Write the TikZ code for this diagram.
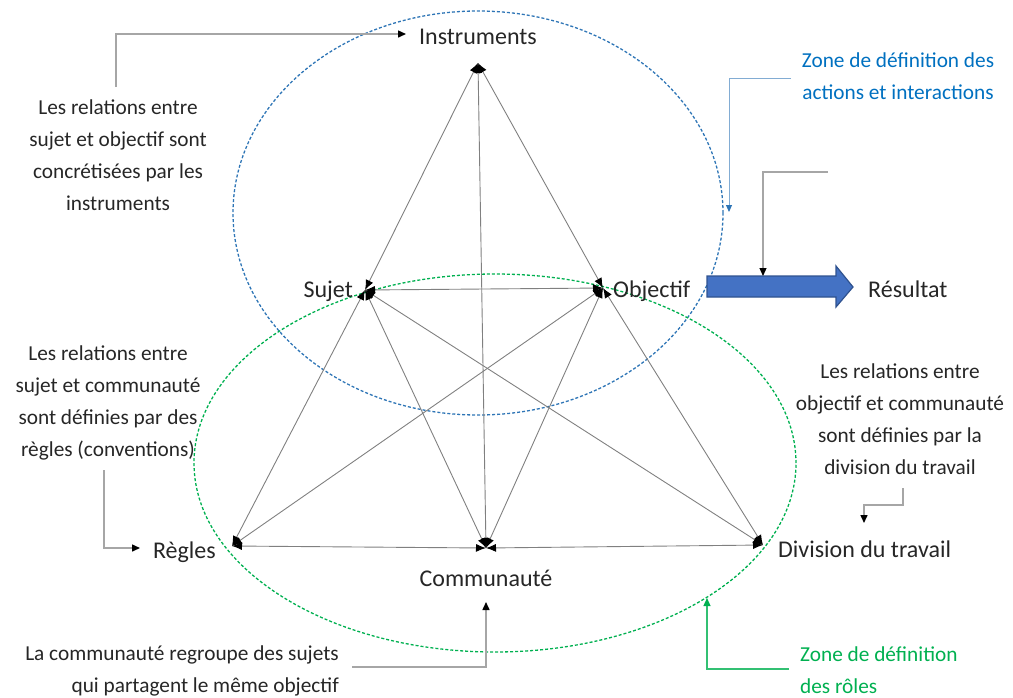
\documentclass[tikz,border=0pt]{standalone}
\usepackage{fontspec}
\setmainfont{Carlito}
\usetikzlibrary{arrows.meta}
\definecolor{zblue}{HTML}{2E75B6}
\definecolor{zgreen}{HTML}{00B050}
\definecolor{tblue}{HTML}{0070C0}
\definecolor{abfill}{HTML}{4472C4}
\definecolor{abdraw}{HTML}{2F528F}
\begin{document}
\begin{tikzpicture}[x=1pt,y=-1pt,
 edge/.style={draw=black!50, line width=0.9pt, {Latex[length=10pt,width=8pt,color=black]}-{Latex[length=10pt,width=8pt,color=black]}},
 lbl/.style={inner sep=0pt, font=\fontsize{24}{29}\selectfont, text=black!85},
 note/.style={inner sep=0pt, font=\fontsize{21.3}{31.7}\selectfont, text=black!85},
 callout/.style={draw=black!35, line width=1.5pt, -{Triangle[length=8pt,width=7pt,color=black]}},
]
\useasboundingbox (0,0) rectangle (1013,697);
% zones
\draw[zblue, dash pattern=on 3pt off 2pt, line width=1.3pt] (478,213) ellipse [x radius=245pt, y radius=202pt];
\draw[zgreen, dash pattern=on 3pt off 2pt, line width=1.3pt] (495,463) ellipse [x radius=301pt, y radius=189pt];
% graph points
\coordinate (I) at (478,63);
\coordinate (S) at (365,290);
\coordinate (O) at (603,288);
\coordinate (R) at (232,546);
\coordinate (C) at (486,548);
\coordinate (D) at (763,545);
\draw[edge] (I) -- (S);
\draw[edge] (I) -- (O);
\draw[edge] (I) -- (C);
\draw[edge] (S) -- (O);
\draw[edge] (S) -- (R);
\draw[edge] (S) -- (C);
\draw[edge] (S) -- (D);
\draw[edge] (O) -- (R);
\draw[edge] (O) -- (C);
\draw[edge] (O) -- (D);
\draw[edge] (R) -- (C);
\draw[edge] (C) -- (D);
% labels
\node[lbl, anchor=base] (tI) at (478,44) {Instruments};
\node[lbl, anchor=base east] (tS) at (353,297) {Sujet};
\node[lbl, anchor=base west] (tO) at (613,297) {Objectif};
\node[lbl, anchor=base east] (tR) at (216,558) {Règles};
\node[lbl, anchor=base] (tC) at (486,586) {Communauté};
\node[lbl, anchor=base west] (tD) at (778,557) {Division du travail};
\node[lbl, anchor=base west] (tRes) at (868,297) {Résultat};
% result arrow
\coordinate (A1) at (707,276);
\coordinate (A2) at (836,276);
\coordinate (A3) at (836,266);
\coordinate (A4) at (853,287);
\coordinate (A5) at (836,307);
\coordinate (A6) at (836,297);
\coordinate (A7) at (707,297);
\draw[fill=abfill, draw=abdraw, line width=1.2pt] (A1) -- (A2) -- (A3) -- (A4) -- (A5) -- (A6) -- (A7) -- cycle;
% notes (base anchor = baseline of last line)
\node[note, anchor=base, align=center] (n1) at (118,210) {Les relations entre\\sujet et objectif sont\\concrétisées par les\\instruments};
\node[note, anchor=base, align=center, text=tblue] (n2) at (898,99) {Zone de définition des\\actions et interactions};
\node[note, anchor=base, align=center] (n4) at (108,456) {Les relations entre\\sujet et communauté\\sont définies par des\\règles (conventions)};
\node[note, anchor=base, align=center] (n5) at (900,474) {Les relations entre\\objectif et communauté\\sont définies par la\\division du travail};
\node[note, anchor=base east, align=right] (n6) at (339,692) {La communauté regroupe des sujets\\qui partagent le même objectif};
\node[note, anchor=base west, align=left, text=zgreen] (n7) at (800,693) {Zone de définition\\des rôles};
% callouts
\coordinate (c1s) at (116,87);
\coordinate (c1e) at (406,34);
\draw[callout] (c1s) |- (c1e);
\coordinate (c2s) at (791,78);
\coordinate (c2e) at (729,212);
\draw[draw=zblue!60, line width=1pt, -{Triangle[length=7pt,width=6pt,color=zblue]}] (c2s) -| (c2e);
\coordinate (c3s) at (828,172);
\coordinate (c3e) at (763,276);
\draw[callout, line width=1.2pt] (c3s) -| (c3e);
\coordinate (c4s) at (104,470);
\coordinate (c4e) at (140,548);
\draw[callout] (c4s) |- (c4e);
\coordinate (c5s) at (903,488);
\coordinate (c5m) at (903,505);
\coordinate (c5e) at (864,523);
\draw[callout] (c5s) -- (c5m) -| (c5e);
\coordinate (c6s) at (352,667);
\coordinate (c6e) at (486,602);
\draw[callout] (c6s) -| (c6e);
\coordinate (c7s) at (789,669);
\coordinate (c7e) at (707,598);
\draw[draw=zgreen!80, line width=1.2pt, -{Triangle[length=8pt,width=7pt,color=zgreen]}] (c7s) -| (c7e);
\end{tikzpicture}
\end{document}
